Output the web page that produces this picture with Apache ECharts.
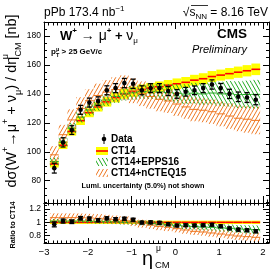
<!DOCTYPE html>
<html><head><meta charset="utf-8">
<script src="https://cdn.jsdelivr.net/npm/echarts@6/dist/echarts.min.js"></script>
<style>html,body{margin:0;padding:0;background:#fff}#c{width:278px;height:271px}</style>
</head><body><div id="c"></div>
<script>
// ---- data ----
const etaCM = [-2.765,-2.565,-2.365,-2.165,-1.965,-1.765,-1.565,-1.365,-1.165,-0.965,-0.765,-0.565,-0.365,-0.165,0.035,0.235,0.435,0.635,0.835,1.035,1.235,1.435,1.635,1.835];
const dataXsec = [88.7,106.5,115.0,129.0,134.0,135.0,142.5,144.0,147.5,147.0,142.5,144.0,144.0,142.0,140.0,141.5,142.5,144.0,146.5,144.0,140.0,138.0,137.5,136.0];
const dataErr = [3.4,3.2,3.0,3.1,3.1,3.0,3.1,3.1,3.2,3.2,3.1,3.1,3.1,3.1,3.0,3.0,3.0,3.1,3.2,3.2,3.2,3.3,3.4,3.5];
const ct14 = [91.5,104.5,114.0,121.5,127.0,131.0,134.5,137.5,140.0,141.5,143.0,144.0,145.0,146.0,147.0,148.0,149.5,150.5,152.0,153.0,154.0,155.0,156.0,157.0];
const ct14Err = [2.4,2.6,2.8,3.0,3.1,3.2,3.3,3.4,3.4,3.5,3.5,3.6,3.6,3.6,3.7,3.7,3.7,3.8,3.8,3.8,3.9,3.9,3.9,4.0];
const epps16 = [93.3,106.6,116.3,123.9,128.9,132.3,135.8,138.2,140.0,140.8,141.6,141.8,141.4,140.9,140.4,139.9,140.5,140.0,140.6,140.0,140.1,139.5,139.6,139.7];
const epps16Err = [2.8,3.2,3.5,3.7,3.9,4.0,4.1,4.3,4.5,4.8,5.0,5.3,5.6,6.0,6.4,6.8,7.2,7.6,8.0,8.4,8.8,9.2,9.6,10.0];
const ncteq15 = [97.9,111.8,122.0,130.0,135.3,138.9,141.2,143.0,144.2,142.2,140.1,138.2,136.3,135.1,133.0,131.0,129.3,128.7,127.7,126.2,124.7,123.2,122.5,121.7];
const ncteq15Err = [6.0,6.8,7.3,7.7,8.0,8.2,8.4,8.5,8.6,8.6,8.5,8.4,8.3,8.3,8.2,8.2,8.2,8.3,8.4,8.6,8.8,9.0,9.3,9.6];
const binHalfWidth = 0.1;
const yTopMajor = [80,100,120,140,160,180];
const yTopMinor = [65,70,75,85,90,95,105,110,115,125,130,135,145,150,155,165,170,175,185];
const yRatioMajor = [0.8,1,1.2];
const yRatioMinor = [0.7,0.75,0.85,0.9,0.95,1.05,1.1,1.15,1.25];

// ---- styling ----
const FONT = "'Liberation Sans', Arial, sans-serif";
const GREEN = '#22aa22', ORANGE = '#ee7722';
function hatch(color, slash) {
  const w = 4, h = 7;
  const c = document.createElement('canvas'); c.width = w; c.height = h;
  const g = c.getContext('2d'); g.strokeStyle = color; g.lineWidth = 1;
  for (const off of [-w, 0, w]) {
    g.beginPath();
    if (slash) { g.moveTo(off - w, 2 * h); g.lineTo(off + 2 * w, -h); }
    else { g.moveTo(off - w, -h); g.lineTo(off + 2 * w, 2 * h); }
    g.stroke();
  }
  return c;
}
const greenHatch = { image: hatch(GREEN, false), repeat: 'repeat' };
const orangeHatch = { image: hatch(ORANGE, true), repeat: 'repeat' };

function bandData(center, err, ratio) {
  return etaCM.map((x, i) => {
    const d = ratio ? ct14[i] : 1;
    return [x, (center[i] - err[i]) / d, (center[i] + err[i]) / d, center[i] / d];
  });
}
function dataPoints(ratio) {
  return etaCM.map((x, i) => {
    const d = ratio ? ct14[i] : 1;
    return [x, dataXsec[i] / d, dataErr[i] / d];
  });
}
function renderBand(fill, lineColor, lw) {
  return function (params, api) {
    const x = api.value(0), lo = api.value(1), hi = api.value(2), c = api.value(3);
    const p1 = api.coord([x - binHalfWidth, hi]);
    const p2 = api.coord([x + binHalfWidth, lo]);
    const c1 = api.coord([x - binHalfWidth, c]);
    const c2 = api.coord([x + binHalfWidth, c]);
    return { type: 'group', children: [
      { type: 'rect', shape: { x: p1[0], y: p1[1], width: p2[0] - p1[0], height: p2[1] - p1[1] }, style: { fill: fill } },
      { type: 'line', shape: { x1: c1[0], y1: c1[1], x2: c2[0], y2: c2[1] }, style: { stroke: lineColor, lineWidth: lw } }
    ] };
  };
}
function renderData(params, api) {
  const x = api.value(0), y = api.value(1), e = api.value(2);
  const p = api.coord([x, y]), pt = api.coord([x, y + e]), pb = api.coord([x, y - e]);
  const cap = 2.5;
  return { type: 'group', children: [
    { type: 'line', shape: { x1: p[0], y1: pt[1], x2: p[0], y2: pb[1] }, style: { stroke: '#000', lineWidth: 1 } },
    { type: 'line', shape: { x1: p[0] - cap, y1: pt[1], x2: p[0] + cap, y2: pt[1] }, style: { stroke: '#000', lineWidth: 1.3 } },
    { type: 'line', shape: { x1: p[0] - cap, y1: pb[1], x2: p[0] + cap, y2: pb[1] }, style: { stroke: '#000', lineWidth: 1.3 } },
    { type: 'circle', shape: { cx: p[0], cy: p[1], r: 2.3 }, style: { fill: '#000' } }
  ] };
}

const XMIN = -3, XMAX = 2.137;
function xAx(gi, pos, showLabel, tl, ml) {
  return { gridIndex: gi, type: 'value', position: pos, min: XMIN, max: XMAX, interval: 1,
    axisLine: { show: true, onZero: false, lineStyle: { color: '#000', width: 1 } },
    axisTick: { show: true, inside: true, length: tl, lineStyle: { color: '#000' } },
    minorTick: { show: true, splitNumber: 10, length: ml, lineStyle: { color: '#000' } },
    axisLabel: { show: showLabel, showMaxLabel: false, color: '#000', fontSize: 9.5, fontFamily: FONT, margin: 4,
      formatter: v => String(v).replace('-', '\u2212') },
    splitLine: { show: false }, minorSplitLine: { show: false } };
}
function yAx(gi, pos, min, max, vals, tl, showLabel, showLine) {
  return { gridIndex: gi, type: 'value', position: pos, min: min, max: max,
    axisLine: { show: showLine, onZero: false, lineStyle: { color: '#000', width: 1 } },
    axisTick: { show: true, inside: true, length: tl, customValues: vals, lineStyle: { color: '#000' } },
    axisLabel: { show: showLabel, customValues: vals, color: '#000', fontSize: 8.5, fontFamily: FONT, margin: 3 },
    splitLine: { show: false } };
}
const Y0MIN = 64.6, Y0MAX = 189.7, Y1MIN = 0.69, Y1MAX = 1.29;

const txt = (x, y, text, o) => ({ type: 'text', x: x, y: y, silent: true,
  style: Object.assign({ text: text, fill: '#000', fontFamily: FONT, fontSize: 10, verticalAlign: 'middle' }, o || {}) });

const option = {
  animation: false,
  backgroundColor: '#fff',
  grid: [
    { left: 44, top: 22, width: 225, height: 181 },
    { left: 44, top: 203, width: 225, height: 40 }
  ],
  xAxis: [
    xAx(0, 'bottom', false, 7, 3.5), xAx(0, 'top', false, 7, 3.5),
    xAx(1, 'bottom', true, 5, 2.5), xAx(1, 'top', false, 5, 2.5)
  ],
  yAxis: [
    yAx(0, 'left', Y0MIN, Y0MAX, yTopMajor, 6, true, true),
    yAx(0, 'left', Y0MIN, Y0MAX, yTopMinor, 3, false, false),
    yAx(0, 'right', Y0MIN, Y0MAX, yTopMajor, 6, false, true),
    yAx(0, 'right', Y0MIN, Y0MAX, yTopMinor, 3, false, false),
    yAx(1, 'left', Y1MIN, Y1MAX, yRatioMajor, 6, true, true),
    yAx(1, 'left', Y1MIN, Y1MAX, yRatioMinor, 3, false, false),
    yAx(1, 'right', Y1MIN, Y1MAX, yRatioMajor, 6, false, true),
    yAx(1, 'right', Y1MIN, Y1MAX, yRatioMinor, 3, false, false)
  ],
  series: [
    { type: 'custom', name: 'CT14', xAxisIndex: 0, yAxisIndex: 0, clip: true, renderItem: renderBand('#ffff00', '#ff0000', 1.6), data: bandData(ct14, ct14Err, false), encode: { x: 0, y: [1, 2] } },
    { type: 'custom', name: 'CT14+EPPS16', xAxisIndex: 0, yAxisIndex: 0, clip: true, renderItem: renderBand(greenHatch, GREEN, 1), data: bandData(epps16, epps16Err, false), encode: { x: 0, y: [1, 2] } },
    { type: 'custom', name: 'CT14+nCTEQ15', xAxisIndex: 0, yAxisIndex: 0, clip: true, renderItem: renderBand(orangeHatch, ORANGE, 1), data: bandData(ncteq15, ncteq15Err, false), encode: { x: 0, y: [1, 2] } },
    { type: 'custom', name: 'Data', xAxisIndex: 0, yAxisIndex: 0, clip: true, renderItem: renderData, data: dataPoints(false), encode: { x: 0, y: 1 } },
    { type: 'custom', name: 'CT14 ratio', xAxisIndex: 2, yAxisIndex: 4, clip: true, renderItem: renderBand('#ffff00', '#ff0000', 1.6), data: bandData(ct14, ct14Err, true), encode: { x: 0, y: [1, 2] } },
    { type: 'custom', name: 'EPPS16 ratio', xAxisIndex: 2, yAxisIndex: 4, clip: true, renderItem: renderBand(greenHatch, GREEN, 1), data: bandData(epps16, epps16Err, true), encode: { x: 0, y: [1, 2] } },
    { type: 'custom', name: 'nCTEQ15 ratio', xAxisIndex: 2, yAxisIndex: 4, clip: true, renderItem: renderBand(orangeHatch, ORANGE, 1), data: bandData(ncteq15, ncteq15Err, true), encode: { x: 0, y: [1, 2] } },
    { type: 'custom', name: 'Data ratio', xAxisIndex: 2, yAxisIndex: 4, clip: true, renderItem: renderData, data: dataPoints(true), encode: { x: 0, y: 1 } }
  ],
  graphic: [
    // header
    txt(44, 13, '{a|pPb 173.4 nb}{s|\u22121}', { rich: { a: { fontSize: 12, fontFamily: FONT, lineHeight: 16 }, s: { fontSize: 8, fontFamily: FONT, lineHeight: 8, verticalAlign: 'top' } } }),
    txt(268, 13, '{a|\u221As}{s|NN}{a| = 8.16 TeV}', { align: 'right', rich: { a: { fontSize: 12, fontFamily: FONT, lineHeight: 16 }, s: { fontSize: 8, fontFamily: FONT, lineHeight: 8, verticalAlign: 'bottom' } } }),
    { type: 'line', silent: true, shape: { x1: 191, y1: 5.5, x2: 208, y2: 5.5 }, style: { stroke: '#000', lineWidth: 0.8 } },
    // process label
    txt(60, 36, '{w|W}{sp|+}{g| \u2192 \u03BC}{sp|+}{w| + }{g|\u03BD}{sb|\u03BC}', { rich: {
      w: { fontSize: 13, fontWeight: 'bold', fontFamily: FONT, lineHeight: 18 },
      g: { fontSize: 14, fontFamily: FONT, lineHeight: 18 },
      sp: { fontSize: 8, fontWeight: 'bold', fontFamily: FONT, lineHeight: 8, verticalAlign: 'top' },
      sb: { fontSize: 8, fontFamily: FONT, lineHeight: 8, verticalAlign: 'bottom' } } }),
    txt(51, 52, '{p|p}{sp|\u03BC}{sb|T}{p| > 25 GeV/c}', { rich: {
      p: { fontSize: 8, fontWeight: 'bold', fontFamily: FONT, lineHeight: 12 },
      sp: { fontSize: 5.5, fontWeight: 'bold', fontFamily: FONT, lineHeight: 6, verticalAlign: 'top', width: 0.1 },
      sb: { fontSize: 5.5, fontWeight: 'bold', fontFamily: FONT, lineHeight: 6, verticalAlign: 'bottom' } } }),
    txt(247, 34, 'CMS', { align: 'right', fontSize: 13.5, fontWeight: 'bold' }),
    txt(247, 50, 'Preliminary', { align: 'right', fontSize: 11, fontStyle: 'italic' }),
    // legend
    { type: 'line', silent: true, shape: { x1: 104, y1: 134, x2: 104, y2: 144 }, style: { stroke: '#000', lineWidth: 1 } },
    { type: 'circle', silent: true, shape: { cx: 104, cy: 139, r: 2.3 }, style: { fill: '#000' } },
    txt(111, 139, 'Data', { fontWeight: 'bold' }),
    { type: 'rect', silent: true, shape: { x: 96, y: 147, width: 12, height: 8 }, style: { fill: '#ffff00' } },
    { type: 'line', silent: true, shape: { x1: 96, y1: 151, x2: 108, y2: 151 }, style: { stroke: '#ff0000', lineWidth: 1.6 } },
    txt(111, 151, 'CT14', { fontWeight: 'bold' }),
    { type: 'rect', silent: true, shape: { x: 96, y: 158, width: 12, height: 8 }, style: { fill: greenHatch } },
    txt(111, 162.5, 'CT14+EPPS16', { fontWeight: 'bold' }),
    { type: 'rect', silent: true, shape: { x: 96, y: 169, width: 12, height: 8 }, style: { fill: orangeHatch } },
    txt(111, 173.5, 'CT14+nCTEQ15', { fontWeight: 'bold' }),
    txt(143, 186, 'Lumi. uncertainty (5.0%) not shown', { align: 'center', fontSize: 7.3, fontWeight: 'bold' }),
    // axis titles
    { type: 'text', x: 12, y: 101, rotation: Math.PI / 2, silent: true, style: {
      text: '{a|d\u03C3(W}{sp|+}{a|\u2192\u03BC}{sp|+}{a| + \u03BD}{sb|\u03BC}{a|) / d\u03B7}{sq|\u03BC}{sb|CM}{a| [nb]}',
      align: 'center', verticalAlign: 'middle', fill: '#000', rich: {
        a: { fontSize: 14.5, fontFamily: FONT, lineHeight: 22 },
        sp: { fontSize: 9, fontFamily: FONT, lineHeight: 9, verticalAlign: 'top' },
        sq: { fontSize: 9, fontFamily: FONT, lineHeight: 9, verticalAlign: 'top', width: 0.1 },
        sb: { fontSize: 9, fontFamily: FONT, lineHeight: 9, verticalAlign: 'bottom' } } } },
    { type: 'text', x: 13, y: 225, rotation: Math.PI / 2, silent: true, style: {
      text: 'Ratio to CT14', align: 'center', verticalAlign: 'middle', fill: '#000', fontFamily: FONT, fontSize: 7.3, fontWeight: 'bold' } },
    txt(142, 259, '\u03B7', { fontSize: 20 }),
    txt(156, 249, '\u03BC', { fontSize: 8.5 }),
    txt(155, 265, 'CM', { fontSize: 9.5 })
  ]
};
const chart = echarts.init(document.getElementById('c'), null, { renderer: 'canvas', width: 278, height: 271 });
chart.setOption(option);
</script></body></html>
